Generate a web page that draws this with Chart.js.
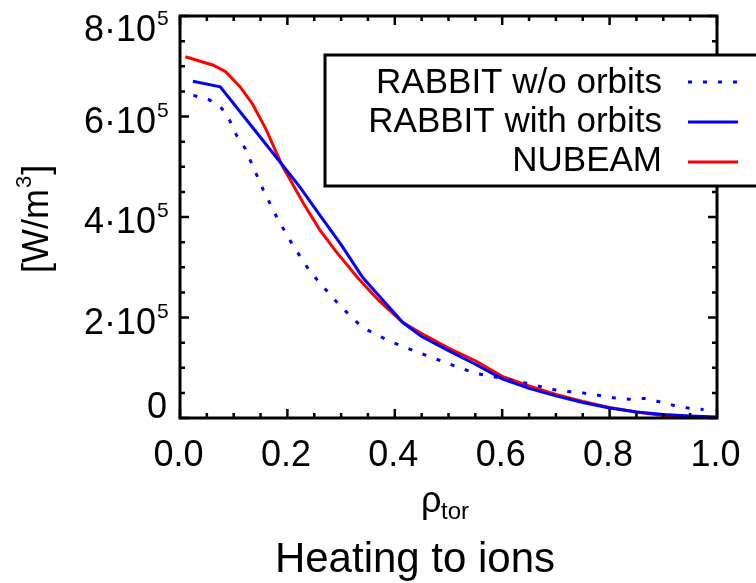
<!DOCTYPE html>
<html>
<head>
<meta charset="utf-8">
<script src="https://cdn.jsdelivr.net/npm/chart.js@4.4.1/dist/chart.umd.min.js"></script>
<style>
  html, body { margin: 0; padding: 0; background: #fff; }
  canvas { display: block; }
</style>
</head>
<body>
<canvas id="heatChart" width="756" height="583"></canvas>
<script>
// rho_tor grid and power density (W/m^3)
var rhoNubeam = [0.01, 0.062, 0.085, 0.112, 0.135, 0.16, 0.19, 0.23, 0.26, 0.29, 0.33, 0.37, 0.415, 0.45, 0.50, 0.55, 0.60, 0.65, 0.70, 0.75, 0.80, 0.85, 0.90, 0.95, 1.0];
var nubeam = [7.19e5, 7.02e5, 6.89e5, 6.59e5, 6.25e5, 5.75e5, 5.03e5, 4.27e5, 3.75e5, 3.32e5, 2.80e5, 2.34e5, 1.90e5, 1.68e5, 1.39e5, 1.14e5, 0.83e5, 0.64e5, 0.47e5, 0.33e5, 0.21e5, 0.12e5, 0.05e5, 0.02e5, 0];

var rhoOrbits = [0.024, 0.075, 0.13, 0.186, 0.223, 0.26, 0.30, 0.34, 0.37, 0.415, 0.45, 0.50, 0.55, 0.60, 0.65, 0.70, 0.75, 0.80, 0.85, 0.90, 0.95, 1.0];
var withOrbits = [6.70e5, 6.59e5, 5.85e5, 5.10e5, 4.60e5, 4.04e5, 3.45e5, 2.80e5, 2.44e5, 1.90e5, 1.62e5, 1.34e5, 1.07e5, 0.78e5, 0.59e5, 0.44e5, 0.31e5, 0.20e5, 0.12e5, 0.07e5, 0.04e5, 0.02e5];

var rhoNoOrbits = [0.025, 0.055, 0.078, 0.093, 0.105, 0.121, 0.132, 0.155, 0.18, 0.21, 0.24, 0.26, 0.30, 0.34, 0.39, 0.445, 0.50, 0.55, 0.60, 0.64, 0.67, 0.69, 0.72, 0.75, 0.78, 0.81, 0.84, 0.865, 0.89, 0.92, 0.95, 0.975];
var withoutOrbits = [6.42e5, 6.33e5, 6.16e5, 5.91e5, 5.63e5, 5.37e5, 5.10e5, 4.54e5, 4.00e5, 3.44e5, 2.95e5, 2.69e5, 2.21e5, 1.80e5, 1.53e5, 1.30e5, 1.08e5, 0.89e5, 0.79e5, 0.70e5, 0.63e5, 0.57e5, 0.53e5, 0.50e5, 0.45e5, 0.40e5, 0.37e5, 0.39e5, 0.33e5, 0.25e5, 0.19e5, 0.17e5];

var seriesNames = ["RABBIT w/o orbits", "RABBIT with orbits", "NUBEAM"];

var xTicks = [0, 0.2, 0.4, 0.6, 0.8, 1.0];
var xTickLabels = ["0.0", "0.2", "0.4", "0.6", "0.8", "1.0"];
var yTicks = [0, 2e5, 4e5, 6e5, 8e5];
var yTickBase = ["0", "2·10", "4·10", "6·10", "8·10"];
var yTickExp = ["", "5", "5", "5", "5"];

function pts(xs, ys) {
  return xs.map(function (x, i) { return { x: x, y: ys[i] }; });
}

var FONT = "'Liberation Sans', Arial, Helvetica, sans-serif";

var idlFrame = {
  id: "idlFrame",
  afterDraw: function (chart) {
    var ctx = chart.ctx;
    var a = chart.chartArea;
    var xs = chart.scales.x;
    var ys = chart.scales.y;
    ctx.save();
    ctx.strokeStyle = "#000";
    ctx.fillStyle = "#000";

    // box
    ctx.lineWidth = 3;
    ctx.strokeRect(a.left, a.top, a.right - a.left, a.bottom - a.top);

    // inward ticks, 3 minor between majors
    var i, p, len;
    ctx.lineWidth = 2.5;
    ctx.beginPath();
    for (i = 0; i <= 20; i++) {
      p = xs.getPixelForValue(i / 20);
      len = i % 4 === 0 ? 9 : 5;
      ctx.moveTo(p, a.bottom); ctx.lineTo(p, a.bottom - len);
      ctx.moveTo(p, a.top); ctx.lineTo(p, a.top + len);
    }
    for (i = 0; i <= 16; i++) {
      p = ys.getPixelForValue(i * 0.5e5);
      len = i % 4 === 0 ? 9 : 5;
      ctx.moveTo(a.left, p); ctx.lineTo(a.left + len, p);
      ctx.moveTo(a.right, p); ctx.lineTo(a.right - len, p);
    }
    ctx.stroke();

    // x tick labels
    ctx.font = "36px " + FONT;
    ctx.textAlign = "center";
    ctx.textBaseline = "alphabetic";
    xTicks.forEach(function (v, k) {
      ctx.fillText(xTickLabels[k], xs.getPixelForValue(v) - 1.5, 466);
    });

    // y tick labels (first and last nudged inward like the original)
    yTicks.forEach(function (v, k) {
      var py = ys.getPixelForValue(v);
      var base = py + 16;
      if (k === 0) base = py;
      if (k === yTicks.length - 1) base = py + 25;
      ctx.font = "36px " + FONT;
      ctx.textAlign = "right";
      if (yTickExp[k]) {
        ctx.fillText(yTickBase[k], 156, base);
        ctx.font = "21px " + FONT;
        ctx.textAlign = "left";
        ctx.fillText(yTickExp[k], 157, base - 16);
      } else {
        ctx.fillText(yTickBase[k], 167, base);
      }
    });

    // y axis title, rotated
    ctx.save();
    ctx.translate(48, 273);
    ctx.rotate(-Math.PI / 2);
    ctx.textAlign = "left";
    ctx.font = "36px " + FONT;
    var t1 = "[W/m";
    ctx.fillText(t1, 0, 0);
    var w1 = ctx.measureText(t1).width;
    ctx.font = "22px " + FONT;
    ctx.fillText("3", w1 + 1, -17);
    var w2 = ctx.measureText("3").width;
    ctx.font = "36px " + FONT;
    ctx.fillText("]", w1 + w2 + 2, 0);
    ctx.restore();

    // x axis title rho_tor
    ctx.textAlign = "left";
    ctx.font = "36px " + FONT;
    ctx.fillText("ρ", 421, 512);
    ctx.font = "24px " + FONT;
    ctx.fillText("tor", 441, 519);

    // caption
    ctx.textAlign = "center";
    ctx.font = "42px " + FONT;
    ctx.fillText("Heating to ions", 415, 572);

    // legend box
    ctx.fillStyle = "#fff";
    ctx.fillRect(325, 55, 460, 131);
    ctx.strokeStyle = "#000";
    ctx.lineWidth = 3;
    ctx.strokeRect(325, 55, 460, 131);
    var rows = [93, 132, 171];
    var lineY = [82, 122, 162];
    ctx.fillStyle = "#000";
    ctx.font = "35px " + FONT;
    ctx.textAlign = "right";
    chart.data.datasets.forEach(function (ds, k) {
      ctx.fillText(ds.label, 662, rows[k]);
      ctx.save();
      ctx.strokeStyle = ds.borderColor;
      ctx.lineWidth = 3;
      ctx.setLineDash(ds.borderDash || []);
      ctx.beginPath();
      ctx.moveTo(688, lineY[k]);
      ctx.lineTo(738, lineY[k]);
      ctx.stroke();
      ctx.restore();
    });

    ctx.restore();
  }
};

var chart = new Chart(document.getElementById("heatChart").getContext("2d"), {
  type: "line",
  data: {
    datasets: [
      {
        label: seriesNames[0],
        data: pts(rhoNoOrbits, withoutOrbits),
        borderColor: "#0000ff",
        borderWidth: 3,
        borderDash: [4, 11],
        pointRadius: 0,
        tension: 0,
        fill: false
      },
      {
        label: seriesNames[1],
        data: pts(rhoOrbits, withOrbits),
        borderColor: "#0000ff",
        borderWidth: 3,
        pointRadius: 0,
        tension: 0,
        fill: false
      },
      {
        label: seriesNames[2],
        data: pts(rhoNubeam, nubeam),
        borderColor: "#ff0000",
        borderWidth: 3,
        pointRadius: 0,
        tension: 0,
        fill: false
      }
    ]
  },
  options: {
    responsive: false,
    animation: false,
    events: [],
    layout: { padding: { left: 180, right: 39, top: 16, bottom: 165 } },
    plugins: {
      legend: { display: false },
      tooltip: { enabled: false }
    },
    scales: {
      x: { type: "linear", min: 0, max: 1, display: false },
      y: { type: "linear", min: 0, max: 8e5, display: false }
    }
  },
  plugins: [idlFrame]
});
</script>
</body>
</html>
